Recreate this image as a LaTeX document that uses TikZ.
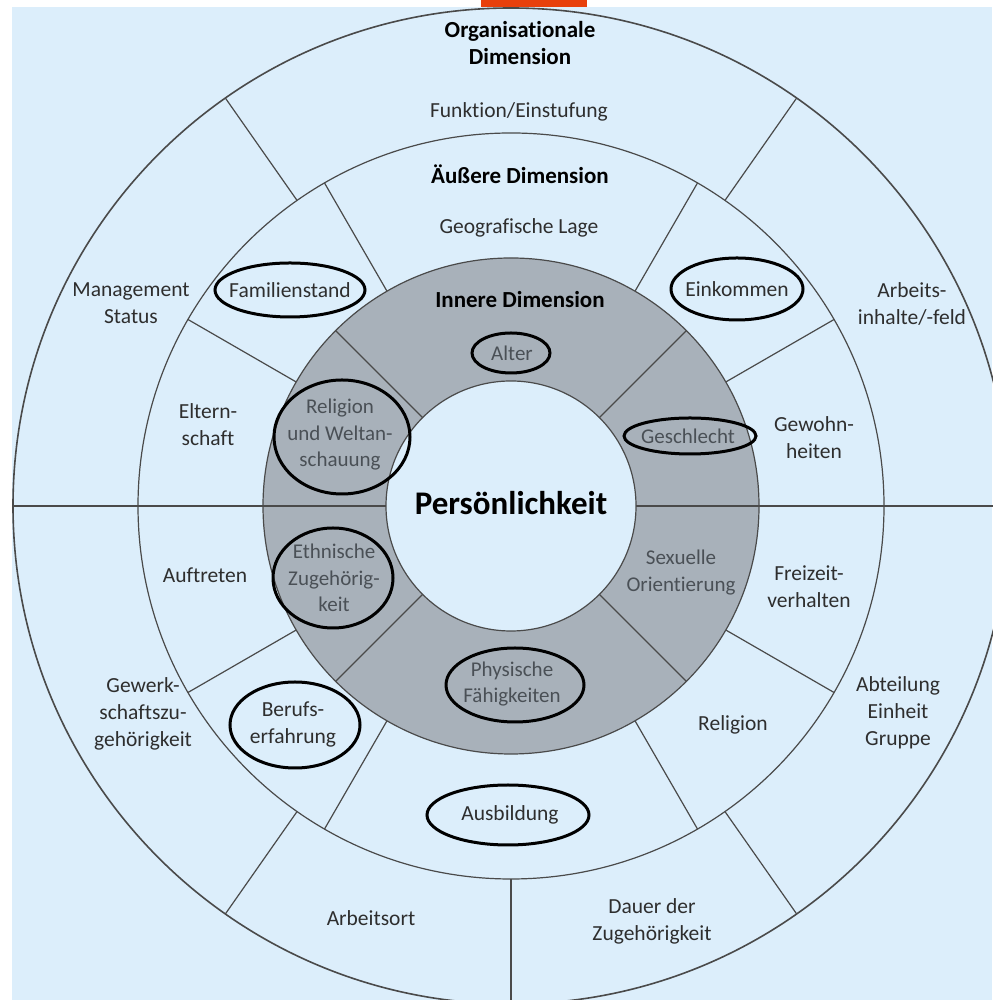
\documentclass[tikz,border=0pt]{standalone}
\usepackage{fontspec}
\setmainfont{Carlito}[Ligatures=CommonOff]
\definecolor{bgblue}{HTML}{DCEEFB}
\definecolor{ringgray}{HTML}{A8B1BA}
\definecolor{topbar}{HTML}{E8400C}
\definecolor{linegray}{HTML}{4A4A4A}
\definecolor{txtdark}{HTML}{2E2E2E}
\definecolor{txtgray}{HTML}{4A5056}
\tikzset{
  divider/.style={draw=linegray, line width=1.2pt},
  rim/.style={draw=linegray, line width=1.6pt},
  lab/.style={text=txtdark, align=center, inner sep=0pt, font=\fontsize{21.5}{27}\selectfont},
  inlab/.style={text=txtgray, align=center, inner sep=0pt, font=\fontsize{21}{26.5}\selectfont},
  ttl/.style={text=black, align=center, inner sep=0pt, font=\bfseries\fontsize{23}{27}\selectfont},
  hiloop/.style={draw=black, line width=3pt},
}
\begin{document}
\begin{tikzpicture}[x=1pt,y=1pt]
\useasboundingbox (0,0) rectangle (992,1000);
\fill[bgblue] (12,0) rectangle (992,993);
\fill[topbar] (481,993) rectangle (587,1000);
\begin{scope}[shift={(511,494)}]
  \coordinate (O) at (0,0);
  % rings
  \draw[rim] (O) circle (498);
  \draw[divider] (O) circle (373);
  \filldraw[divider, fill=ringgray] (O) circle (248);
  \filldraw[divider, fill=bgblue] (O) circle (125);
  % horizontal divider through all rings
  \draw[divider] (-498,0) -- (-125,0);
  \draw[divider] (125,0) -- (498,0);
  % inner (gray) ring dividers
  \foreach \a in {45,135,225,315} \draw[divider] (\a:125) -- (\a:248);
  % outer dimension ring dividers
  \foreach \a in {30,60,120,150,210,240,300,330} \draw[divider] (\a:248) -- (\a:373);
  % organisational ring dividers
  \foreach \a in {55,125,235,270,305} \draw[divider] (\a:373) -- (\a:498);
\end{scope}
% titles
\node[ttl] (torg) at (520,956.5) {Organisationale\\Dimension};
\node[ttl] (taus) at (520,826) {Äußere Dimension};
\node[ttl] (tinn) at (520,700) {Innere Dimension};
\node[text=black, inner sep=0pt, font=\bfseries\fontsize{33}{38}\selectfont] (pers) at (511,497) {Persönlichkeit};
% organisational ring
\node[lab] (funk) at (519,888) {Funktion/Einstufung};
\node[lab] (mgmt) at (131,696.5) {Management\\Status};
\node[lab] (arbi) at (912,696) {Arbeits-\\inhalte/-feld};
\node[lab] (gewk) at (143,286) {Gewerk-\\schaftszu-\\gehörigkeit};
\node[lab] (abtl) at (898,287.5) {Abteilung\\Einheit\\Gruppe};
\node[lab] (aort) at (371,82) {Arbeitsort};
\node[lab] (daue) at (652,78.5) {Dauer der\\Zugehörigkeit};
% outer dimension ring
\node[lab] (geog) at (519,772) {Geografische Lage};
\node[lab] (fami) at (290,710) {Familienstand};
\node[lab] (eink) at (737,711) {Einkommen};
\node[lab] (elte) at (208,575.5) {Eltern-\\schaft};
\node[lab] (gewo) at (814,562.5) {Gewohn-\\heiten};
\node[lab] (auft) at (205,425) {Auftreten};
\node[lab] (frei) at (809,413.5) {Freizeit-\\verhalten};
\node[lab] (beru) at (293,275.5) {Berufs-\\erfahrung};
\node[lab] (reli) at (733,275) {Religion};
\node[lab] (ausb) at (510,185) {Ausbildung};
% inner dimension ring
\node[inlab] (alte) at (512,647) {Alter};
\node[inlab] (relw) at (340,565) {Religion\\und Weltan-\\schauung};
\node[inlab] (gesc) at (688,564) {Geschlecht};
\node[inlab] (ethn) at (334,422) {Ethnische\\Zugehörig-\\keit};
\node[inlab] (sexu) at (681,427.5) {Sexuelle\\Orientierung};
\node[inlab] (phys) at (512,316) {Physische\\Fähigkeiten};
% hand-drawn highlight ellipses
\draw[hiloop] (290,710) ellipse [x radius=75, y radius=27];
\draw[hiloop] (737,711) ellipse [x radius=66, y radius=31];
\draw[hiloop] (511,647) ellipse [x radius=39, y radius=20];
\draw[hiloop] (342,563) ellipse [x radius=68, y radius=57];
\draw[hiloop] (690,564) ellipse [x radius=66, y radius=18];
\draw[hiloop] (333,422) ellipse [x radius=60, y radius=50];
\draw[hiloop] (515,315) ellipse [x radius=69, y radius=37];
\draw[hiloop] (295,275) ellipse [x radius=65, y radius=43];
\draw[hiloop] (508,185) ellipse [x radius=81, y radius=30];
\end{tikzpicture}
\end{document}
